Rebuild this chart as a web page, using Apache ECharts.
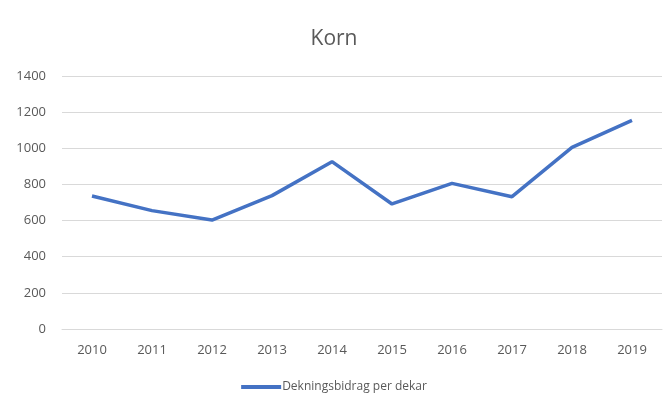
<!DOCTYPE html>
<html>
<head>
<meta charset="utf-8">
<script src="https://cdn.jsdelivr.net/npm/echarts@6/dist/echarts.min.js"></script>
<style>
  html, body { margin: 0; padding: 0; background: #fff; }
  #chart { width: 668px; height: 416px; }
</style>
</head>
<body>
<div id="chart"></div>
<script>
// data
var years = ['2010', '2011', '2012', '2013', '2014', '2015', '2016', '2017', '2018', '2019'];
var dekningsbidrag = [736, 655, 603, 738, 926, 692, 806, 732, 1005, 1154];
var seriesName = 'Dekningsbidrag per dekar';

var chart = echarts.init(document.getElementById('chart'));
var font = 'Open Sans, Noto Sans, sans-serif';

var option = {
  animation: false,
  title: {
    text: 'Korn',
    left: 'center',
    top: 24,
    textStyle: { fontFamily: font, fontSize: 21, fontWeight: 'normal', color: '#595959' }
  },
  legend: {
    bottom: 18,
    left: 'center',
    itemWidth: 40,
    itemHeight: 4,
    itemGap: 4,
    icon: 'rect',
    data: [seriesName],
    textStyle: { fontFamily: font, fontSize: 12, color: '#595959', padding: [0, 0, 0, -4] }
  },
  grid: { left: 62, right: 6, top: 76, bottom: 87 },
  xAxis: {
    type: 'category',
    data: years,
    boundaryGap: true,
    axisLine: { lineStyle: { color: '#d9d9d9' } },
    axisTick: { show: false },
    axisLabel: { fontFamily: font, fontSize: 13, color: '#595959', margin: 15 }
  },
  yAxis: {
    type: 'value',
    min: 0,
    max: 1400,
    interval: 200,
    axisLine: { show: false },
    axisTick: { show: false },
    splitLine: { lineStyle: { color: '#d9d9d9' } },
    axisLabel: {
      fontFamily: font, fontSize: 13, color: '#595959', margin: 16,
      formatter: function (v) { return String(v); }
    }
  },
  series: [{
    name: seriesName,
    type: 'line',
    data: dekningsbidrag,
    symbol: 'none',
    color: '#4472C4',
    lineStyle: { width: 3.5, color: '#4472C4' }
  }]
};
chart.setOption(option);
</script>
</body>
</html>
